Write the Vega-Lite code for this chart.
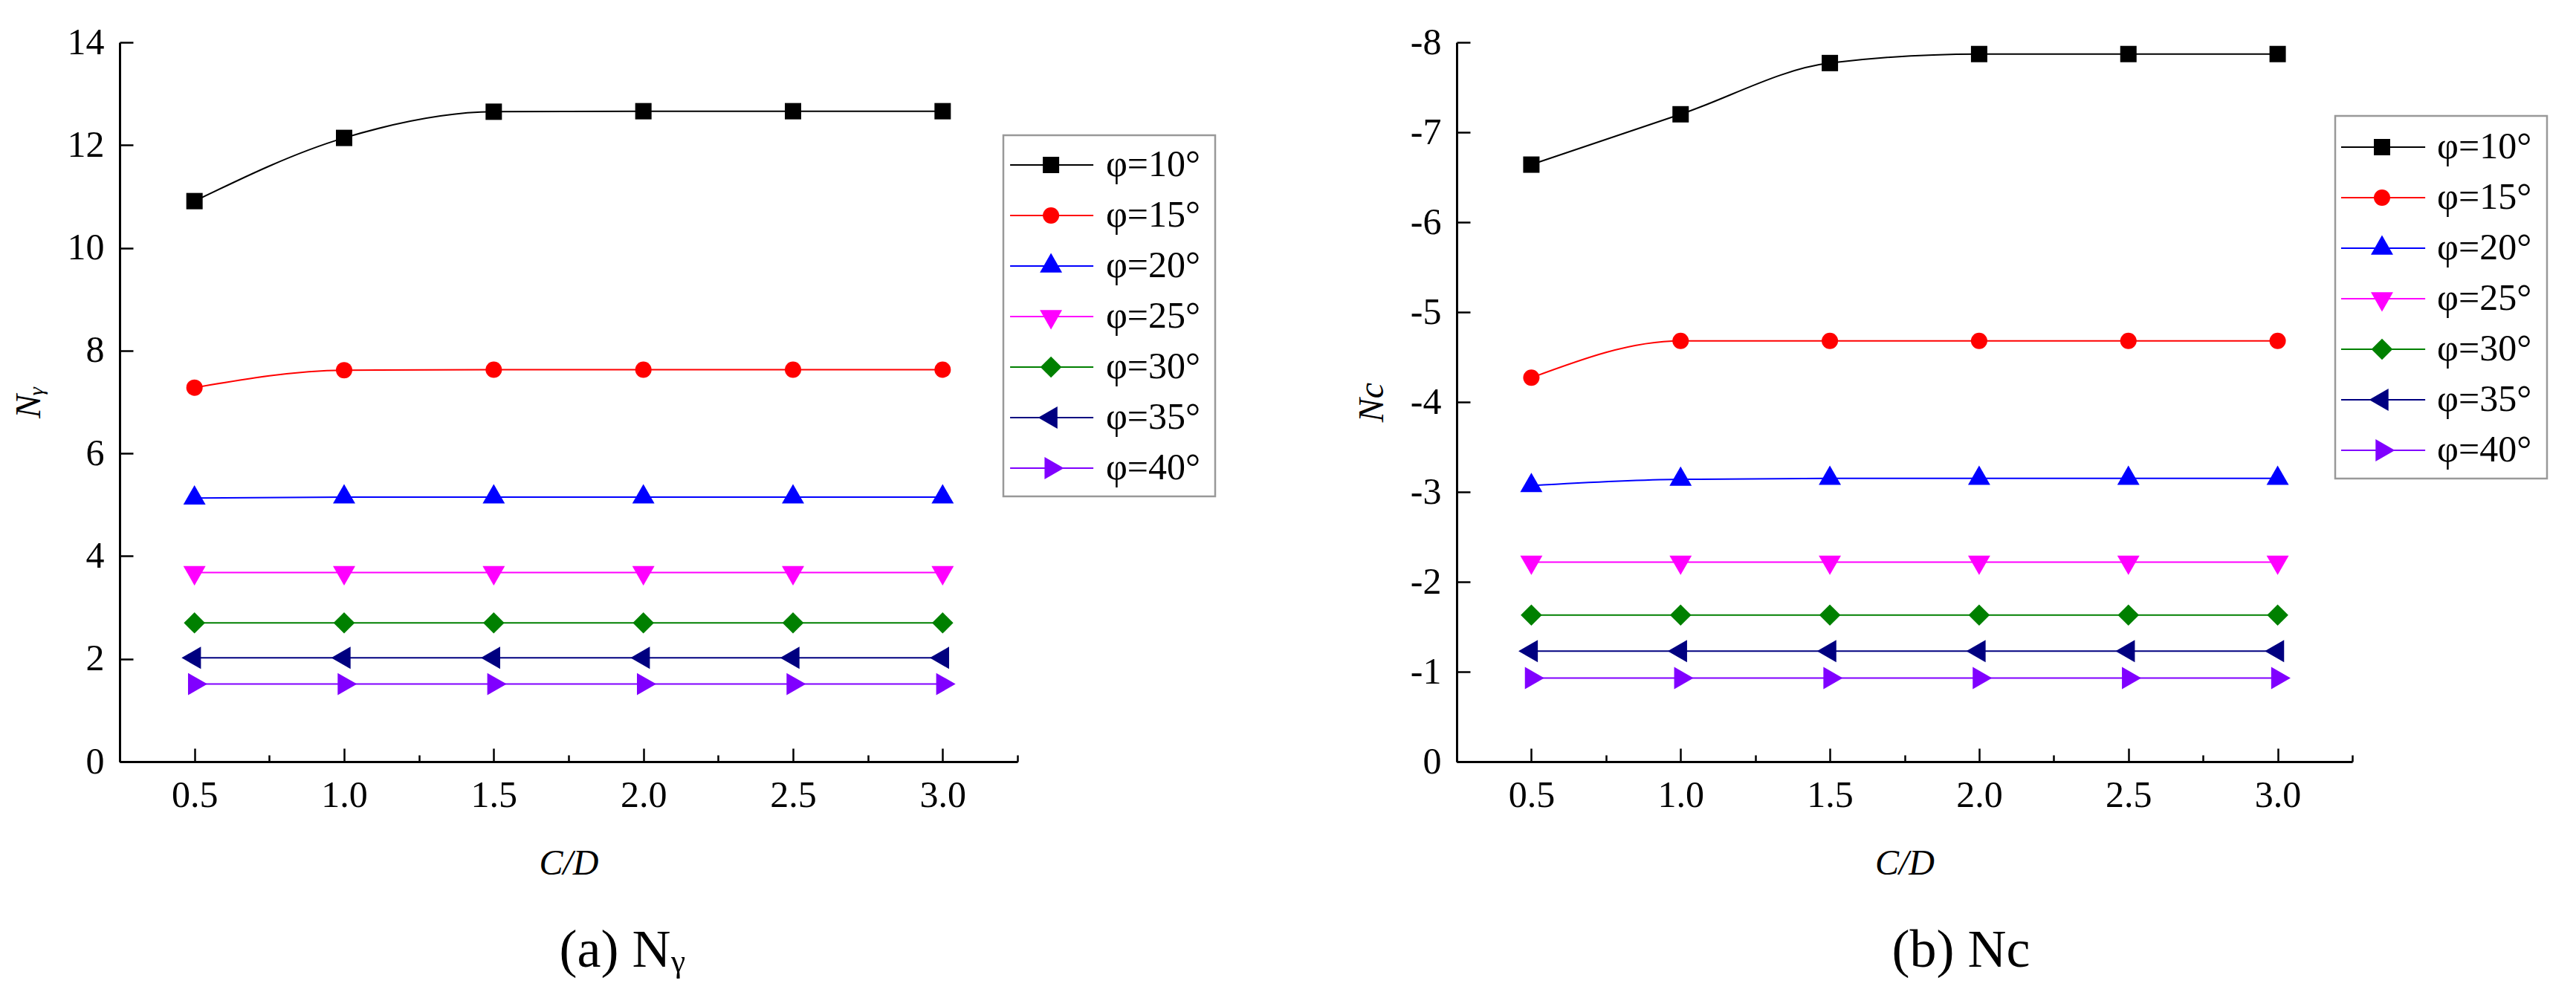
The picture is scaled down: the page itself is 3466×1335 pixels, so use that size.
{
  "$schema": "https://vega.github.io/schema/vega-lite/v6.json",
  "background": "white",
  "padding": {"left": 15, "top": 32, "right": 5, "bottom": 5},
  "datasets": {
    "ng": [
      {"cd": 0.5, "phi": "φ=10°", "v": 10.91}, {"cd": 1.0, "phi": "φ=10°", "v": 12.14}, {"cd": 1.5, "phi": "φ=10°", "v": 12.65},
      {"cd": 2.0, "phi": "φ=10°", "v": 12.66}, {"cd": 2.5, "phi": "φ=10°", "v": 12.66}, {"cd": 3.0, "phi": "φ=10°", "v": 12.66},
      {"cd": 0.5, "phi": "φ=15°", "v": 7.28}, {"cd": 1.0, "phi": "φ=15°", "v": 7.62}, {"cd": 1.5, "phi": "φ=15°", "v": 7.63},
      {"cd": 2.0, "phi": "φ=15°", "v": 7.63}, {"cd": 2.5, "phi": "φ=15°", "v": 7.63}, {"cd": 3.0, "phi": "φ=15°", "v": 7.63},
      {"cd": 0.5, "phi": "φ=20°", "v": 5.13}, {"cd": 1.0, "phi": "φ=20°", "v": 5.15}, {"cd": 1.5, "phi": "φ=20°", "v": 5.15},
      {"cd": 2.0, "phi": "φ=20°", "v": 5.15}, {"cd": 2.5, "phi": "φ=20°", "v": 5.15}, {"cd": 3.0, "phi": "φ=20°", "v": 5.15},
      {"cd": 0.5, "phi": "φ=25°", "v": 3.68}, {"cd": 1.0, "phi": "φ=25°", "v": 3.68}, {"cd": 1.5, "phi": "φ=25°", "v": 3.68},
      {"cd": 2.0, "phi": "φ=25°", "v": 3.68}, {"cd": 2.5, "phi": "φ=25°", "v": 3.68}, {"cd": 3.0, "phi": "φ=25°", "v": 3.68},
      {"cd": 0.5, "phi": "φ=30°", "v": 2.70}, {"cd": 1.0, "phi": "φ=30°", "v": 2.70}, {"cd": 1.5, "phi": "φ=30°", "v": 2.70},
      {"cd": 2.0, "phi": "φ=30°", "v": 2.70}, {"cd": 2.5, "phi": "φ=30°", "v": 2.70}, {"cd": 3.0, "phi": "φ=30°", "v": 2.70},
      {"cd": 0.5, "phi": "φ=35°", "v": 2.02}, {"cd": 1.0, "phi": "φ=35°", "v": 2.02}, {"cd": 1.5, "phi": "φ=35°", "v": 2.02},
      {"cd": 2.0, "phi": "φ=35°", "v": 2.02}, {"cd": 2.5, "phi": "φ=35°", "v": 2.02}, {"cd": 3.0, "phi": "φ=35°", "v": 2.02},
      {"cd": 0.5, "phi": "φ=40°", "v": 1.51}, {"cd": 1.0, "phi": "φ=40°", "v": 1.51}, {"cd": 1.5, "phi": "φ=40°", "v": 1.51},
      {"cd": 2.0, "phi": "φ=40°", "v": 1.51}, {"cd": 2.5, "phi": "φ=40°", "v": 1.51}, {"cd": 3.0, "phi": "φ=40°", "v": 1.51}
    ],
    "nc": [
      {"cd": 0.5, "phi": "φ=10°", "v": -6.64}, {"cd": 1.0, "phi": "φ=10°", "v": -7.20}, {"cd": 1.5, "phi": "φ=10°", "v": -7.77},
      {"cd": 2.0, "phi": "φ=10°", "v": -7.87}, {"cd": 2.5, "phi": "φ=10°", "v": -7.87}, {"cd": 3.0, "phi": "φ=10°", "v": -7.87},
      {"cd": 0.5, "phi": "φ=15°", "v": -4.27}, {"cd": 1.0, "phi": "φ=15°", "v": -4.68}, {"cd": 1.5, "phi": "φ=15°", "v": -4.68},
      {"cd": 2.0, "phi": "φ=15°", "v": -4.68}, {"cd": 2.5, "phi": "φ=15°", "v": -4.68}, {"cd": 3.0, "phi": "φ=15°", "v": -4.68},
      {"cd": 0.5, "phi": "φ=20°", "v": -3.07}, {"cd": 1.0, "phi": "φ=20°", "v": -3.14}, {"cd": 1.5, "phi": "φ=20°", "v": -3.15},
      {"cd": 2.0, "phi": "φ=20°", "v": -3.15}, {"cd": 2.5, "phi": "φ=20°", "v": -3.15}, {"cd": 3.0, "phi": "φ=20°", "v": -3.15},
      {"cd": 0.5, "phi": "φ=25°", "v": -2.22}, {"cd": 1.0, "phi": "φ=25°", "v": -2.22}, {"cd": 1.5, "phi": "φ=25°", "v": -2.22},
      {"cd": 2.0, "phi": "φ=25°", "v": -2.22}, {"cd": 2.5, "phi": "φ=25°", "v": -2.22}, {"cd": 3.0, "phi": "φ=25°", "v": -2.22},
      {"cd": 0.5, "phi": "φ=30°", "v": -1.63}, {"cd": 1.0, "phi": "φ=30°", "v": -1.63}, {"cd": 1.5, "phi": "φ=30°", "v": -1.63},
      {"cd": 2.0, "phi": "φ=30°", "v": -1.63}, {"cd": 2.5, "phi": "φ=30°", "v": -1.63}, {"cd": 3.0, "phi": "φ=30°", "v": -1.63},
      {"cd": 0.5, "phi": "φ=35°", "v": -1.23}, {"cd": 1.0, "phi": "φ=35°", "v": -1.23}, {"cd": 1.5, "phi": "φ=35°", "v": -1.23},
      {"cd": 2.0, "phi": "φ=35°", "v": -1.23}, {"cd": 2.5, "phi": "φ=35°", "v": -1.23}, {"cd": 3.0, "phi": "φ=35°", "v": -1.23},
      {"cd": 0.5, "phi": "φ=40°", "v": -0.93}, {"cd": 1.0, "phi": "φ=40°", "v": -0.93}, {"cd": 1.5, "phi": "φ=40°", "v": -0.93},
      {"cd": 2.0, "phi": "φ=40°", "v": -0.93}, {"cd": 2.5, "phi": "φ=40°", "v": -0.93}, {"cd": 3.0, "phi": "φ=40°", "v": -0.93}
    ],
    "legend": [
      {"phi": "φ=10°"}, {"phi": "φ=15°"}, {"phi": "φ=20°"}, {"phi": "φ=25°"},
      {"phi": "φ=30°"}, {"phi": "φ=35°"}, {"phi": "φ=40°"}
    ]
  },
  "config": {
    "view": {"stroke": null},
    "font": "Liberation Serif",
    "axis": {
      "grid": false,
      "domainColor": "black", "domainWidth": 3,
      "tickColor": "black", "tickWidth": 2.5,
      "labelFont": "Liberation Serif", "labelFontSize": 50, "labelColor": "black",
      "labelFlush": false, "labelOverlap": false,
      "titleFont": "Liberation Serif", "titleFontSize": 48, "titleFontWeight": "normal",
      "titleFontStyle": "italic", "titleColor": "black"
    },
    "title": {"font": "Liberation Serif", "fontSize": 72, "fontWeight": "normal", "color": "black"}
  },
  "spacing": 185,
  "hconcat": [
    {
      "spacing": 0,
      "bounds": "flush",
      "hconcat": [
        {
          "width": 1208,
          "height": 968,
          "data": {"name": "ng"},
          "title": {"text": "(a) Nᵧ", "orient": "bottom", "anchor": "middle", "frame": "group", "dx": 72, "offset": 58},
          "encoding": {
            "x": {
              "field": "cd", "type": "quantitative",
              "scale": {"domain": [0.25, 3.25], "nice": false, "zero": false},
              "axis": {
                "title": "C/D",
                "values": [0.25, 0.5, 0.75, 1.0, 1.25, 1.5, 1.75, 2.0, 2.25, 2.5, 2.75, 3.0, 3.25],
                "labelExpr": "datum.value * 2 % 1 == 0 ? format(datum.value, '.1f') : ''",
                "tickSize": {"condition": {"test": "datum.value * 2 % 1 == 0", "value": -18}, "value": -9},
                "labelPadding": 38,
                "titlePadding": 34
              }
            },
            "y": {
              "field": "v", "type": "quantitative",
              "scale": {"domain": [0, 14], "nice": false},
              "axis": {
                "title": "Nᵧ",
                "values": [0, 2, 4, 6, 8, 10, 12, 14],
                "tickSize": -18,
                "labelPadding": 39,
                "titlePadding": 27
              }
            },
            "color": {
              "field": "phi", "type": "nominal", "legend": null,
              "scale": {
                "domain": ["φ=10°", "φ=15°", "φ=20°", "φ=25°", "φ=30°", "φ=35°", "φ=40°"],
                "range": ["#000000", "#ff0000", "#0000ff", "#ff00ff", "#008000", "#000080", "#8000ff"]
              }
            }
          },
          "layer": [
            {"mark": {"type": "line", "interpolate": "monotone", "strokeWidth": 2}},
            {
              "mark": {"type": "point", "filled": true, "opacity": 1, "size": 484},
              "encoding": {
                "shape": {
                  "field": "phi", "type": "nominal", "legend": null,
                  "scale": {
                    "domain": ["φ=10°", "φ=15°", "φ=20°", "φ=25°", "φ=30°", "φ=35°", "φ=40°"],
                    "range": ["square", "circle", "M0,-1.58L1.36,0.79L-1.36,0.79Z", "M0,1.58L-1.36,-0.79L1.36,-0.79Z", "M0,-1.3L1.3,0L0,1.3L-1.3,0Z", "M-1.58,0L0.79,-1.36L0.79,1.36Z", "M1.58,0L-0.79,1.36L-0.79,-1.36Z"]
                  }
                }
              }
            }
          ]
        },
        {
          "width": 266,
          "height": 968,
          "data": {"name": "legend"},
          "encoding": {
            "y": {
              "field": "phi", "type": "nominal", "axis": null,
              "scale": {"type": "point", "domain": ["φ=10°", "φ=15°", "φ=20°", "φ=25°", "φ=30°", "φ=35°", "φ=40°"], "range": [165, 573], "padding": 0}
            }
          },
          "layer": [
            {
              "transform": [{"filter": "datum.phi == 'φ=10°'"}],
              "mark": {"type": "rect", "fill": "white", "stroke": "#999999", "strokeWidth": 2.5, "yOffset": -40, "y2Offset": 38},
              "encoding": {
                "x": {"datum": 0, "type": "quantitative", "scale": {"domain": [0.0667, 1], "nice": false, "zero": false}, "axis": null},
                "x2": {"datum": 1},
                "y": {"datum": "φ=10°", "type": "nominal"},
                "y2": {"datum": "φ=40°"}
              }
            },
            {
              "mark": {"type": "rule", "strokeWidth": 2},
              "encoding": {
                "x": {"datum": 0.032, "type": "quantitative", "axis": null},
                "x2": {"datum": 0.425},
                "color": {
                  "field": "phi", "type": "nominal", "legend": null,
                  "scale": {
                    "domain": ["φ=10°", "φ=15°", "φ=20°", "φ=25°", "φ=30°", "φ=35°", "φ=40°"],
                    "range": ["#000000", "#ff0000", "#0000ff", "#ff00ff", "#008000", "#000080", "#8000ff"]
                  }
                }
              }
            },
            {
              "mark": {"type": "point", "filled": true, "opacity": 1, "size": 484},
              "encoding": {
                "x": {"datum": 0.225, "type": "quantitative", "axis": null},
                "color": {"field": "phi", "type": "nominal", "legend": null},
                "shape": {
                  "field": "phi", "type": "nominal", "legend": null,
                  "scale": {
                    "domain": ["φ=10°", "φ=15°", "φ=20°", "φ=25°", "φ=30°", "φ=35°", "φ=40°"],
                    "range": ["square", "circle", "M0,-1.58L1.36,0.79L-1.36,0.79Z", "M0,1.58L-1.36,-0.79L1.36,-0.79Z", "M0,-1.3L1.3,0L0,1.3L-1.3,0Z", "M-1.58,0L0.79,-1.36L0.79,1.36Z", "M1.58,0L-0.79,1.36L-0.79,-1.36Z"]
                  }
                }
              }
            },
            {
              "mark": {"type": "text", "align": "left", "baseline": "middle", "fontSize": 50, "font": "Liberation Serif", "color": "black"},
              "encoding": {
                "x": {"datum": 0.484, "type": "quantitative", "axis": null},
                "text": {"field": "phi"}
              }
            }
          ]
        }
      ]
    },
    {
      "spacing": 0,
      "bounds": "flush",
      "hconcat": [
        {
          "width": 1205,
          "height": 968,
          "data": {"name": "nc"},
          "title": {"text": "(b) Nc", "orient": "bottom", "anchor": "middle", "frame": "group", "dx": 76, "offset": 58},
          "encoding": {
            "x": {
              "field": "cd", "type": "quantitative",
              "scale": {"domain": [0.25, 3.25], "nice": false, "zero": false},
              "axis": {
                "title": "C/D",
                "values": [0.25, 0.5, 0.75, 1.0, 1.25, 1.5, 1.75, 2.0, 2.25, 2.5, 2.75, 3.0, 3.25],
                "labelExpr": "datum.value * 2 % 1 == 0 ? format(datum.value, '.1f') : ''",
                "tickSize": {"condition": {"test": "datum.value * 2 % 1 == 0", "value": -18}, "value": -9},
                "labelPadding": 38,
                "titlePadding": 34
              }
            },
            "y": {
              "field": "v", "type": "quantitative",
              "scale": {"domain": [-8, 0], "reverse": true, "nice": false, "zero": false},
              "axis": {
                "title": "Nc",
                "values": [-8, -7, -6, -5, -4, -3, -2, -1, 0],
                "labelExpr": "datum.value + ''",
                "tickSize": -18,
                "labelPadding": 39,
                "titlePadding": 27
              }
            },
            "color": {
              "field": "phi", "type": "nominal", "legend": null,
              "scale": {
                "domain": ["φ=10°", "φ=15°", "φ=20°", "φ=25°", "φ=30°", "φ=35°", "φ=40°"],
                "range": ["#000000", "#ff0000", "#0000ff", "#ff00ff", "#008000", "#000080", "#8000ff"]
              }
            }
          },
          "layer": [
            {"mark": {"type": "line", "interpolate": "monotone", "strokeWidth": 2}},
            {
              "mark": {"type": "point", "filled": true, "opacity": 1, "size": 484},
              "encoding": {
                "shape": {
                  "field": "phi", "type": "nominal", "legend": null,
                  "scale": {
                    "domain": ["φ=10°", "φ=15°", "φ=20°", "φ=25°", "φ=30°", "φ=35°", "φ=40°"],
                    "range": ["square", "circle", "M0,-1.58L1.36,0.79L-1.36,0.79Z", "M0,1.58L-1.36,-0.79L1.36,-0.79Z", "M0,-1.3L1.3,0L0,1.3L-1.3,0Z", "M-1.58,0L0.79,-1.36L0.79,1.36Z", "M1.58,0L-0.79,1.36L-0.79,-1.36Z"]
                  }
                }
              }
            }
          ]
        },
        {
          "width": 262,
          "height": 968,
          "data": {"name": "legend"},
          "encoding": {
            "y": {
              "field": "phi", "type": "nominal", "axis": null,
              "scale": {"type": "point", "domain": ["φ=10°", "φ=15°", "φ=20°", "φ=25°", "φ=30°", "φ=35°", "φ=40°"], "range": [141, 549], "padding": 0}
            }
          },
          "layer": [
            {
              "transform": [{"filter": "datum.phi == 'φ=10°'"}],
              "mark": {"type": "rect", "fill": "white", "stroke": "#999999", "strokeWidth": 2.5, "yOffset": -42, "y2Offset": 38},
              "encoding": {
                "x": {"datum": 0, "type": "quantitative", "scale": {"domain": [0.0807, 1], "nice": false, "zero": false}, "axis": null},
                "x2": {"datum": 1},
                "y": {"datum": "φ=10°", "type": "nominal"},
                "y2": {"datum": "φ=40°"}
              }
            },
            {
              "mark": {"type": "rule", "strokeWidth": 2},
              "encoding": {
                "x": {"datum": 0.028, "type": "quantitative", "axis": null},
                "x2": {"datum": 0.425},
                "color": {
                  "field": "phi", "type": "nominal", "legend": null,
                  "scale": {
                    "domain": ["φ=10°", "φ=15°", "φ=20°", "φ=25°", "φ=30°", "φ=35°", "φ=40°"],
                    "range": ["#000000", "#ff0000", "#0000ff", "#ff00ff", "#008000", "#000080", "#8000ff"]
                  }
                }
              }
            },
            {
              "mark": {"type": "point", "filled": true, "opacity": 1, "size": 484},
              "encoding": {
                "x": {"datum": 0.221, "type": "quantitative", "axis": null},
                "color": {"field": "phi", "type": "nominal", "legend": null},
                "shape": {
                  "field": "phi", "type": "nominal", "legend": null,
                  "scale": {
                    "domain": ["φ=10°", "φ=15°", "φ=20°", "φ=25°", "φ=30°", "φ=35°", "φ=40°"],
                    "range": ["square", "circle", "M0,-1.58L1.36,0.79L-1.36,0.79Z", "M0,1.58L-1.36,-0.79L1.36,-0.79Z", "M0,-1.3L1.3,0L0,1.3L-1.3,0Z", "M-1.58,0L0.79,-1.36L0.79,1.36Z", "M1.58,0L-0.79,1.36L-0.79,-1.36Z"]
                  }
                }
              }
            },
            {
              "mark": {"type": "text", "align": "left", "baseline": "middle", "fontSize": 50, "font": "Liberation Serif", "color": "black"},
              "encoding": {
                "x": {"datum": 0.481, "type": "quantitative", "axis": null},
                "text": {"field": "phi"}
              }
            }
          ]
        }
      ]
    }
  ]
}
